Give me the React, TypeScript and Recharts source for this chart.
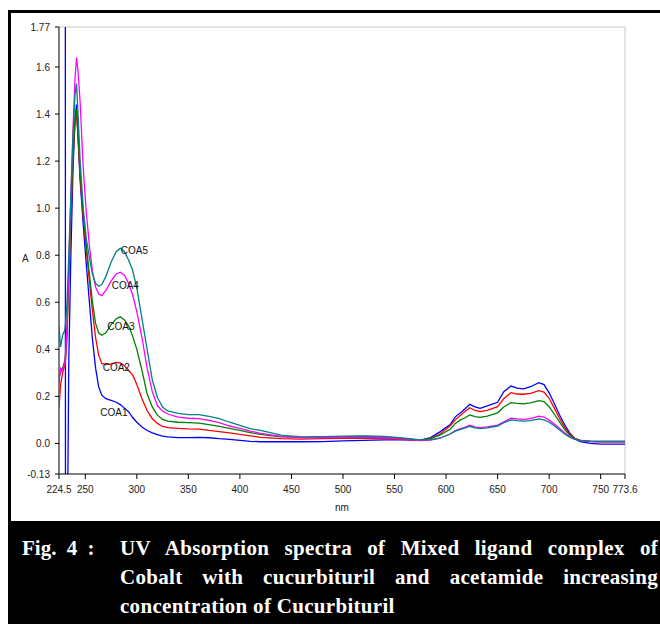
import { LineChart, Line, XAxis, YAxis, ReferenceLine, ReferenceDot } from "recharts";

// wavelength (nm) and absorbance for each sample
const wavelengths = [
  224.5, 226, 228, 230, 230.6, 230.8, 232.3, 234, 236, 238, 240, 241.5, 243, 245, 248, 251, 254, 257, 260, 263,
  266, 270, 275, 280, 284, 288, 292, 296, 300, 305, 310, 315, 320, 325, 330, 340, 350, 360, 370, 380,
  390, 400, 410, 420, 440, 460, 480, 500, 520, 540, 560, 575, 585, 594, 604, 609, 614, 618, 623, 628,
  633, 640, 650, 656, 663, 669, 675, 682, 690, 695, 700, 705, 710, 715, 720, 725, 730, 740, 750, 760, 773.6,
];
const coa1 = [
  3, 3, 3, 3, 3, -1, -0.6, 0.35, 0.8, 1.15, 1.38, 1.44, 1.3, 1.12, 0.93, 0.76, 0.6, 0.44, 0.32, 0.24,
  0.205, 0.19, 0.183, 0.175, 0.165, 0.15, 0.135, 0.11, 0.09, 0.07, 0.055, 0.045, 0.037, 0.031, 0.028, 0.025, 0.025, 0.026, 0.024, 0.02,
  0.017, 0.013, 0.009, 0.007, 0.007, 0.007, 0.008, 0.011, 0.013, 0.015, 0.015, 0.014, 0.025, 0.049, 0.08, 0.113, 0.13, 0.145, 0.166, 0.155,
  0.149, 0.16, 0.175, 0.22, 0.244, 0.235, 0.232, 0.241, 0.258, 0.25, 0.215, 0.17, 0.122, 0.08, 0.045, 0.02, 0.008, 0.0, -0.003, -0.003, -0.003,
];
const coa2 = [
  0.15, 0.25, 0.3, 0.33, 0.34, 0.35, 0.45, 0.7, 0.97, 1.2, 1.36, 1.4, 1.3, 1.13, 0.96, 0.82, 0.69, 0.56, 0.45, 0.375,
  0.34, 0.335, 0.338, 0.344, 0.342, 0.33, 0.31, 0.29, 0.25, 0.19, 0.14, 0.105, 0.085, 0.072, 0.067, 0.064, 0.062, 0.061, 0.055, 0.05,
  0.045, 0.038, 0.032, 0.026, 0.02, 0.018, 0.02, 0.021, 0.022, 0.02, 0.016, 0.013, 0.022, 0.04, 0.075, 0.1, 0.12, 0.135, 0.152, 0.14,
  0.135, 0.14, 0.156, 0.19, 0.216, 0.21, 0.209, 0.213, 0.224, 0.218, 0.192, 0.15, 0.107, 0.068, 0.04, 0.022, 0.014, 0.008, 0.007, 0.007, 0.007,
];
const coa3 = [
  0.28, 0.3, 0.32, 0.35, 0.37, 0.38, 0.5, 0.72, 0.98, 1.22, 1.38, 1.42, 1.32, 1.15, 0.98, 0.84, 0.72, 0.6, 0.51, 0.47,
  0.46, 0.47, 0.505, 0.53, 0.538, 0.525, 0.5, 0.455, 0.4, 0.31, 0.21, 0.155, 0.12, 0.102, 0.095, 0.09, 0.088, 0.086, 0.08, 0.072,
  0.064, 0.055, 0.046, 0.038, 0.028, 0.026, 0.027, 0.028, 0.03, 0.028, 0.02, 0.014, 0.02, 0.035, 0.06, 0.085, 0.1, 0.108, 0.121, 0.114,
  0.111, 0.116, 0.13, 0.155, 0.173, 0.17, 0.168, 0.172, 0.182, 0.178, 0.156, 0.125, 0.092, 0.06, 0.035, 0.02, 0.013, 0.009, 0.008, 0.008, 0.008,
];
const coa4 = [
  0.26, 0.32, 0.31, 0.34, 0.36, 0.37, 0.5, 0.75, 1.05, 1.32, 1.55, 1.64, 1.58, 1.45, 1.17, 0.98, 0.84, 0.73, 0.665, 0.635,
  0.628, 0.65, 0.69, 0.72, 0.728, 0.715, 0.68, 0.63, 0.56, 0.45, 0.32, 0.22, 0.16, 0.138, 0.125, 0.112, 0.107, 0.105, 0.098, 0.088,
  0.074, 0.064, 0.052, 0.043, 0.03, 0.024, 0.025, 0.026, 0.026, 0.024, 0.018, 0.012, 0.014, 0.022, 0.04, 0.055, 0.063, 0.068, 0.077, 0.07,
  0.067, 0.07, 0.078, 0.092, 0.107, 0.104, 0.102, 0.105, 0.116, 0.112, 0.099, 0.082, 0.064, 0.045, 0.028, 0.018, 0.012, 0.009, 0.008, 0.008, 0.008,
];
const coa5 = [
  0.5, 0.41, 0.46, 0.48, 0.5, 0.51, 0.6, 0.8, 1.05, 1.3, 1.48, 1.53, 1.4, 1.2, 1.0, 0.87, 0.79, 0.72, 0.68, 0.668,
  0.675, 0.71, 0.77, 0.815, 0.83, 0.815, 0.78, 0.735, 0.66, 0.53, 0.4, 0.27, 0.195, 0.155, 0.138, 0.128, 0.122, 0.122, 0.115, 0.105,
  0.09, 0.077, 0.063, 0.055, 0.035, 0.028, 0.029, 0.031, 0.032, 0.03, 0.022, 0.015, 0.016, 0.022, 0.04, 0.052, 0.06, 0.065, 0.072, 0.066,
  0.063, 0.066, 0.074, 0.088, 0.1, 0.097, 0.095, 0.097, 0.104, 0.1, 0.09, 0.075, 0.058, 0.04, 0.027, 0.017, 0.012, 0.01, 0.01, 0.01, 0.01,
];

const seriesNames = ["COA1", "COA2", "COA3", "COA4", "COA5"];
const seriesColors = ["#0000ff", "#ff0000", "#008000", "#ff00ff", "#008080"];
const seriesValues = [coa1, coa2, coa3, coa4, coa5];

// where the curve names are written (nm, A)
const labelNm = [277.7, 280.1, 284.5, 288.8, 297.6];
const labelAbs = [0.133, 0.324, 0.497, 0.671, 0.821];

const xTicks = [224.5, 250, 300, 350, 400, 450, 500, 550, 600, 650, 700, 750, 773.6];
const yTicks = [-0.13, 0, 0.2, 0.4, 0.6, 0.8, 1.0, 1.2, 1.4, 1.6, 1.77];

const captionLines = [
  "UV Absorption spectra of Mixed ligand complex of",
  "Cobalt with cucurbituril and acetamide increasing",
  "concentration of Cucurbituril",
];

const data = wavelengths.map((nm, i) => {
  const row: Record<string, number> = { nm };
  seriesNames.forEach((name, s) => {
    row[name] = seriesValues[s][i];
  });
  return row;
});

const sans = "'Liberation Sans', Arial, sans-serif";
const tickFont = { fontSize: 10, fill: "#222", fontFamily: sans };

const fmtY = (v: number) => (v === -0.13 || v === 1.77 ? String(v) : v.toFixed(1));

export default function App() {
  return (
    <div style={{ position: "absolute", left: 0, top: 0, width: 660, height: 624, overflow: "hidden", background: "#fff" }}>
      <div
        style={{
          position: "absolute",
          left: 8,
          top: 10,
          width: 680,
          height: 640,
          borderLeft: "3px solid #000",
          borderTop: "3px solid #000",
          boxSizing: "border-box",
        }}
      />
      <div style={{ position: "absolute", left: 0, top: 0 }}>
        <LineChart width={660} height={520} data={data} margin={{ top: 27, right: 35, left: 0, bottom: 6 }}>
          <XAxis
            dataKey="nm"
            type="number"
            domain={[224.5, 773.6]}
            ticks={xTicks}
            interval={0}
            allowDataOverflow
            height={40}
            tickSize={5}
            tickMargin={7}
            tick={tickFont}
            axisLine={{ stroke: "#000" }}
            tickLine={{ stroke: "#000" }}
            label={{ value: "nm", position: "insideBottom", offset: 3, fontSize: 10, fill: "#222", fontFamily: sans }}
          />
          <YAxis
            type="number"
            domain={[-0.13, 1.77]}
            ticks={yTicks}
            interval={0}
            allowDataOverflow
            width={59}
            tickSize={4}
            tickMargin={5}
            tick={tickFont}
            tickFormatter={fmtY}
            axisLine={{ stroke: "#555", strokeWidth: 1.5 }}
            tickLine={{ stroke: "#000" }}
            label={{ value: "A", position: "insideLeft", offset: 22, dy: 8, fontSize: 10, fill: "#222", fontFamily: sans }}
          />
          <ReferenceLine y={1.77} stroke="#c8c8c8" />
          <ReferenceLine x={773.6} stroke="#c8c8c8" />
          {seriesNames.map((name, s) => (
            <Line
              key={name}
              dataKey={name}
              type="linear"
              stroke={seriesColors[s]}
              strokeWidth={1.3}
              dot={false}
              isAnimationActive={false}
            />
          ))}
          {seriesNames.map((name, s) => (
            <ReferenceDot
              key={"lbl" + name}
              x={labelNm[s]}
              y={labelAbs[s]}
              r={0}
              fill="none"
              stroke="none"
              label={{ value: name, position: "center", fontSize: 10, fill: "#111", fontFamily: sans }}
            />
          ))}
        </LineChart>
      </div>
      <div
        style={{
          position: "absolute",
          left: 8,
          top: 521,
          width: 660,
          height: 110,
          background: "#000",
          color: "#fff",
          fontFamily: "'Liberation Serif', 'Times New Roman', serif",
          fontWeight: "bold",
          fontSize: 21,
          lineHeight: "29px",
        }}
      >
        <div style={{ position: "absolute", left: 14, top: 13, wordSpacing: 5 }}>Fig. 4 :</div>
        <div style={{ position: "absolute", left: 112, top: 13, width: 538 }}>
          {captionLines.map((line, i) => (
            <div
              key={i}
              style={{
                whiteSpace: "nowrap",
                textAlign: i < captionLines.length - 1 ? "justify" : "left",
                textAlignLast: i < captionLines.length - 1 ? "justify" : "left",
                letterSpacing: 0.3,
              }}
            >
              {line}
            </div>
          ))}
        </div>
      </div>
    </div>
  );
}
